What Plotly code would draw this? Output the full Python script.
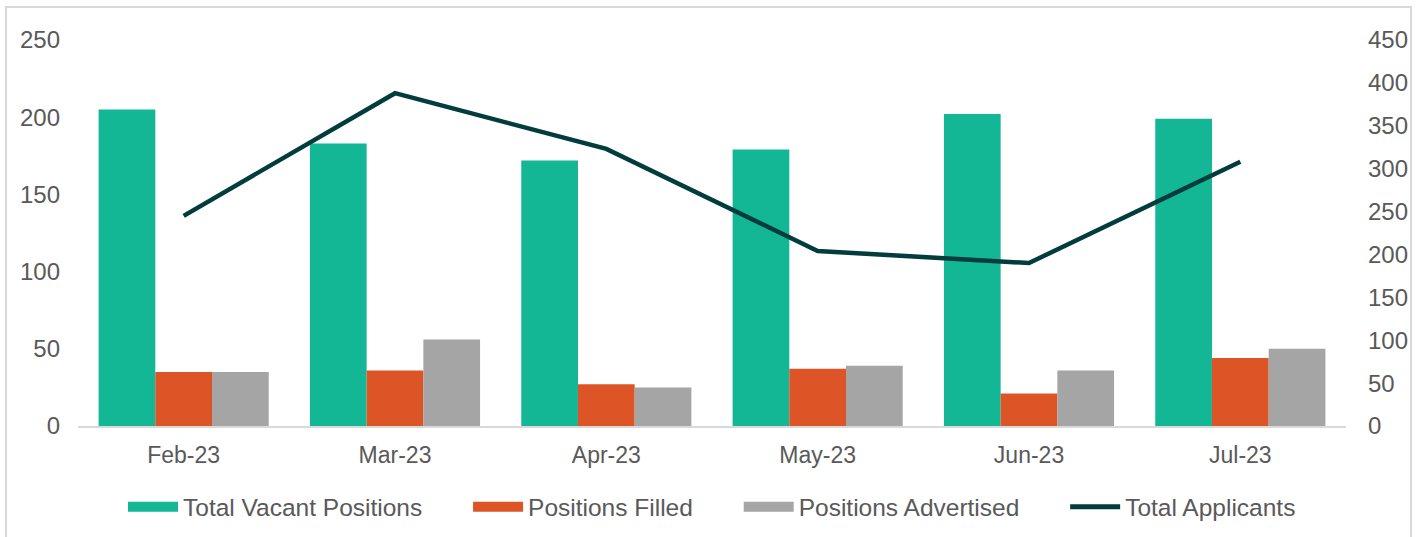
import plotly.graph_objects as go

# datos
meses = ["Feb-23", "Mar-23", "Apr-23", "May-23", "Jun-23", "Jul-23"]
vacantes = [205, 183, 172, 179, 202, 199]
cubiertas = [35, 36, 27, 37, 21, 44]
anunciadas = [35, 56, 25, 39, 36, 50]
postulantes = [245, 388, 323, 204, 190, 308]

TEAL = "#13b795"
NARANJA = "#dd5426"
GRIS = "#a5a5a5"
OSCURO = "#023c3c"
TEXTO = "#595959"
FUENTE = "Liberation Sans, Arial, sans-serif"
HUECO = "\u00a0" * 6

fig = go.Figure()
for nombre, valores, color in [("Total Vacant Positions", vacantes, TEAL),
                               ("Positions Filled", cubiertas, NARANJA),
                               ("Positions Advertised", anunciadas, GRIS)]:
    fig.add_trace(go.Bar(x=meses, y=valores, name=nombre, marker_color=color,
                         marker_line_width=0, showlegend=False))

fig.add_trace(go.Scatter(x=meses, y=postulantes, name="Total Applicants", yaxis="y2",
                         mode="lines", line=dict(color=OSCURO, width=4.5),
                         showlegend=False))

# entradas de leyenda (rectangulos anchos como en Excel)
for nombre, color, ancho in [("Total Vacant Positions" + HUECO, TEAL, 13),
                             ("Positions Filled" + HUECO, NARANJA, 13),
                             ("Positions Advertised" + HUECO, GRIS, 13),
                             ("Total Applicants", OSCURO, 5)]:
    fig.add_trace(go.Scatter(x=[None], y=[None], name=nombre, mode="lines",
                             line=dict(color=color, width=ancho)))

fig.update_layout(
    width=1422, height=537,
    margin=dict(l=78, r=76, t=40, b=111),
    paper_bgcolor="white", plot_bgcolor="white",
    font=dict(family=FUENTE, color=TEXTO, size=23),
    barmode="group", bargap=0.195, bargroupgap=0,
    xaxis=dict(showgrid=False, showline=True, linecolor="#d9d9d9", linewidth=2,
               ticks="", tickfont=dict(size=23, color=TEXTO), ticklabelstandoff=7),
    yaxis=dict(range=[0, 250], dtick=50, showgrid=False, zeroline=False, showline=False,
               ticks="", tickfont=dict(size=24, color=TEXTO), ticklabelstandoff=17),
    yaxis2=dict(range=[0, 450], dtick=50, overlaying="y", side="right", showgrid=False,
                zeroline=False, showline=False, ticks="",
                tickfont=dict(size=24, color=TEXTO), ticklabelstandoff=21),
    legend=dict(orientation="h", x=0.5, xanchor="center", yref="container",
                y=0.056, yanchor="middle",
                font=dict(size=24.5, color=TEXTO), itemwidth=50, bgcolor="rgba(0,0,0,0)"),
    shapes=[dict(type="rect", xref="paper", yref="paper", x0=-0.0568, x1=1.0513,
                 y0=-0.4, y1=1.0855, line=dict(color="#d9d9d9", width=2),
                 layer="below")],
)

fig.write_html("out.html", config={"displayModeBar": False},
               post_script="document.body.style.margin='0';")
